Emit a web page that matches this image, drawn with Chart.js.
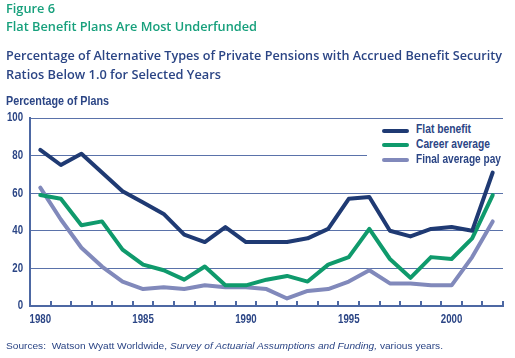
<!DOCTYPE html>
<html><head><meta charset="utf-8">
<script src="https://cdn.jsdelivr.net/npm/chart.js@4.4.1/dist/chart.umd.min.js"></script>
<style>
html,body{margin:0;padding:0;background:#fff;}
#wrap{position:relative;width:515px;height:358px;overflow:hidden;}
#c{position:absolute;left:0;top:0;}
.t{position:absolute;white-space:nowrap;transform-origin:0 0;}
.os{font-family:"Open Sans",sans-serif;font-weight:600;}
.lb{font-family:"Liberation Sans",Arial,sans-serif;font-weight:bold;color:#2b4585;}
#fig{left:6px;top:2px;font-size:13px;line-height:13px;color:#17a07c;}
#ttl{left:6px;top:20px;font-size:13px;line-height:13px;color:#17a07c;}
#sub1{left:6px;top:50px;font-size:12.5px;line-height:12.5px;color:#2b4585;}
#sub2{left:6px;top:69px;font-size:12.5px;line-height:12.5px;color:#2b4585;}
#ylab{left:6px;top:94.8px;font-size:12px;line-height:12px;}
#src{left:6px;top:341.3px;font:9.5px/9.5px "Liberation Sans",Arial,sans-serif;color:#2b4585;}
#leg{position:absolute;left:367px;top:121px;width:146px;height:45px;background:#fff;}
.sw{position:absolute;left:15px;width:27px;height:4px;border-radius:2px;}
.lt{font-size:12px;line-height:15px;}
</style></head>
<body><div id="wrap">
<canvas id="c" width="515" height="358"></canvas>
<div class="t os" id="fig" data-w="49">Figure 6</div>
<div class="t os" id="ttl" data-w="251">Flat Benefit Plans Are Most Underfunded</div>
<div class="t os" id="sub1" data-w="496">Percentage of Alternative Types of Private Pensions with Accrued Benefit Security</div>
<div class="t os" id="sub2" data-w="215">Ratios Below 1.0 for Selected Years</div>
<div class="t lb" id="ylab" data-w="103">Percentage of Plans</div>
<div class="t" id="src" data-w="437">Sources:&nbsp; Watson Wyatt Worldwide, <i>Survey of Actuarial Assumptions and Funding,</i> various years.</div>
<div id="leg"></div>
</div>
<script>
const years = [1980,1981,1982,1983,1984,1985,1986,1987,1988,1989,1990,1991,1992,1993,1994,1995,1996,1997,1998,1999,2000,2001,2002];
const flatBenefit   = [83,75,81,71,61,55,49,38,34,42,34,34,34,36,41,57,58,40,37,41,42,40,71];
const careerAverage = [59,57,43,45,30,22,19,14,21,11,11,14,16,13,22,26,41,25,15,26,25,36,59];
const finalAvgPay   = [63,46,31,21,13,9,10,9,11,10,10,9,4,8,9,13,19,12,12,11,11,26,45];
const seriesNames = ['Flat benefit','Career average','Final average pay'];
const seriesColors = ['#1f3a73','#0f9a6c','#8189bb'];
const yTicks = [0,20,40,60,80,100];
const legendWidths = [55,74,85];

const AX_FAMILY = '"Liberation Sans", Arial, sans-serif';
const FONT_AX = {family:AX_FAMILY, size:12.5, weight:'bold'};
const AXIS_COLOR = '#4d68a3';

// legend (HTML)
const leg = document.getElementById('leg');
seriesNames.forEach((n,i)=>{
  const sw = document.createElement('div');
  sw.className='sw'; sw.style.background=seriesColors[i]; sw.style.top=(7.5+i*14.7)+'px';
  leg.appendChild(sw);
  const t = document.createElement('div');
  t.className='t lb lt'; t.textContent=n; t.style.left='49px'; t.style.top=(1.3+i*15)+'px';
  t.dataset.w = legendWidths[i];
  leg.appendChild(t);
});

// fit text widths to the reference
document.querySelectorAll('[data-w]').forEach(el=>{
  const w = el.getBoundingClientRect().width;
  if(w>0) el.style.transform = 'scaleX(' + (parseFloat(el.dataset.w)/w) + ')';
});

// condensed tick labels: horizontal scale for axis font
const canvas = document.getElementById('c');
const ctx = canvas.getContext('2d');
ctx.font = 'bold 12.5px ' + AX_FAMILY;
const SX = 21.5 / ctx.measureText('1980').width;
const origFill = ctx.fillText.bind(ctx);
ctx.fillText = function(t,x,y,mw){
  if(this.font.indexOf('Liberation Sans')>=0){
    this.save(); this.translate(x,y); this.scale(SX,1); origFill(t,0,0); this.restore();
  } else origFill(t,x,y,mw);
};

const innerTicks = {
  id:'innerTicks',
  afterDatasetsDraw(chart){
    const xs = chart.scales.x, c = chart.ctx, b = chart.chartArea.bottom;
    const step = xs.getPixelForValue(1)-xs.getPixelForValue(0);
    c.save(); c.strokeStyle = AXIS_COLOR; c.lineWidth = 2;
    for(let i=1;i<=years.length;i++){
      const x = Math.round(xs.getPixelForValue(i-1) + step/2);
      c.beginPath(); c.moveTo(x,b); c.lineTo(x,b-5); c.stroke();
    }
    c.restore();
  }
};

new Chart(canvas, {
  type:'line',
  data:{
    labels: years.map(String),
    datasets:[flatBenefit,careerAverage,finalAvgPay].map((d,i)=>({
      label: seriesNames[i], data:d, borderColor:seriesColors[i], backgroundColor:seriesColors[i],
      borderWidth:4, pointRadius:0, tension:0, borderJoinStyle:'round', borderCapStyle:'round', fill:false
    }))
  },
  options:{
    responsive:false, animation:false, devicePixelRatio:1,
    layout:{padding:{top:118,right:12,bottom:30,left:0}},
    plugins:{legend:{display:false}, tooltip:{enabled:false}},
    scales:{
      x:{
        type:'category', offset:true,
        grid:{display:true, drawOnChartArea:false, drawTicks:false, offset:true},
        border:{display:true, color:AXIS_COLOR, width:2},
        ticks:{autoSkip:false, maxRotation:0, padding:6, color:'#2b4585', font:FONT_AX,
          callback(v,i){ const y = years[i]; return y%5===0 ? String(y) : ''; }},
        afterFit(s){ s.height = 22; }
      },
      y:{
        min:0, max:100,
        afterBuildTicks(s){ s.ticks = yTicks.map(v=>({value:v})); },
        grid:{color:(c)=> c.tick.value===0 ? 'rgba(0,0,0,0)' : '#5a72aa', lineWidth:1, drawTicks:false},
        border:{display:true, color:AXIS_COLOR, width:2},
        ticks:{padding:7, color:'#2b4585', font:FONT_AX},
        afterFit(s){ s.width = 30; }
      }
    }
  },
  plugins:[innerTicks]
});
</script>
</body></html>
